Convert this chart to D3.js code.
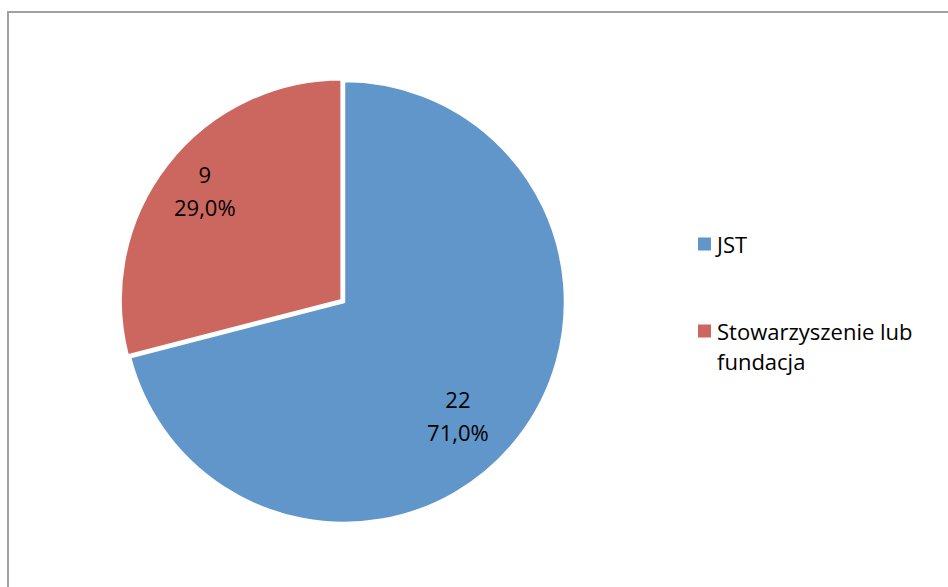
<!DOCTYPE html>
<html lang="pl">
<head>
    <meta charset="UTF-8">
    <title>JST vs Stowarzyszenie lub fundacja</title>
    <script src="https://d3js.org/d3.v7.min.js"></script>
    <style>
        body { margin: 0; background: #fff; }
        text { font-family: "Open Sans", "Liberation Sans", sans-serif; fill: #000; }
    </style>
</head>
<body>
    <div id="chart"></div>
    <script>
        // data
        const categories = ["JST", "Stowarzyszenie lub fundacja"];
        const values = [22, 9];
        const colors = ["#6096CA", "#CC675F"];
        const legendLines = [["JST"], ["Stowarzyszenie lub", "fundacja"]];

        const width = 948, height = 587;
        const cx = 344, cy = 302, radius = 221;

        const svg = d3.select("#chart")
            .append("svg")
            .attr("width", width)
            .attr("height", height);

        // chart frame (runs off the right and bottom edges)
        svg.append("rect")
            .attr("x", 8)
            .attr("y", 12)
            .attr("width", 1000)
            .attr("height", 1000)
            .attr("fill", "none")
            .attr("stroke", "#a0a0a0")
            .attr("stroke-width", 2);

        const total = d3.sum(values);
        const pie = d3.pie().sort(null).value(d => d);
        const arcs = pie(values);

        const arc = d3.arc().innerRadius(0).outerRadius(radius);
        const explode = [0, 3];
        // label placement (Excel "best fit" is not exactly on the mid-angle)
        const labelR = [161, 178];
        const labelShift = [0.126, 0.014];

        const g = svg.append("g")
            .attr("transform", `translate(${cx},${cy})`);

        g.selectAll("path")
            .data(arcs)
            .join("path")
            .attr("transform", (d, i) => {
                const a = (d.startAngle + d.endAngle) / 2;
                return `translate(${Math.sin(a) * explode[i]},${-Math.cos(a) * explode[i]})`;
            })
            .attr("d", arc)
            .attr("fill", (d, i) => colors[i])
            .attr("stroke", "#fff")
            .attr("stroke-width", 2.5)
            .attr("stroke-linejoin", "round");

        const fmt = v => (v * 100).toFixed(1).replace(".", ",") + "%";

        g.selectAll("text.lbl")
            .data(arcs)
            .join("text")
            .attr("class", "lbl")
            .attr("text-anchor", "middle")
            .attr("font-size", 22)
            .each(function (d, i) {
                const a = (d.startAngle + d.endAngle) / 2 + labelShift[i];
                const x = Math.sin(a) * labelR[i];
                const y = -Math.cos(a) * labelR[i];
                const t = d3.select(this);
                t.append("tspan").attr("x", x).attr("y", y - 8).text(d.data);
                t.append("tspan").attr("x", x).attr("y", y + 25).text(fmt(d.data / total));
            });

        // legend
        const legend = svg.append("g")
            .attr("transform", "translate(698,0)");

        const legendY = [244, 331];
        legend.selectAll("rect")
            .data(categories)
            .join("rect")
            .attr("x", 0)
            .attr("y", (d, i) => legendY[i] - 6.5)
            .attr("width", 13)
            .attr("height", 13)
            .attr("fill", (d, i) => colors[i]);

        legend.selectAll("text")
            .data(categories)
            .join("text")
            .attr("font-size", 22)
            .each(function (d, i) {
                const t = d3.select(this);
                legendLines[i].forEach((line, j) => {
                    t.append("tspan")
                        .attr("x", 19)
                        .attr("y", legendY[i] + 9 + j * 30)
                        .text(line);
                });
            });
    </script>
</body>
</html>
